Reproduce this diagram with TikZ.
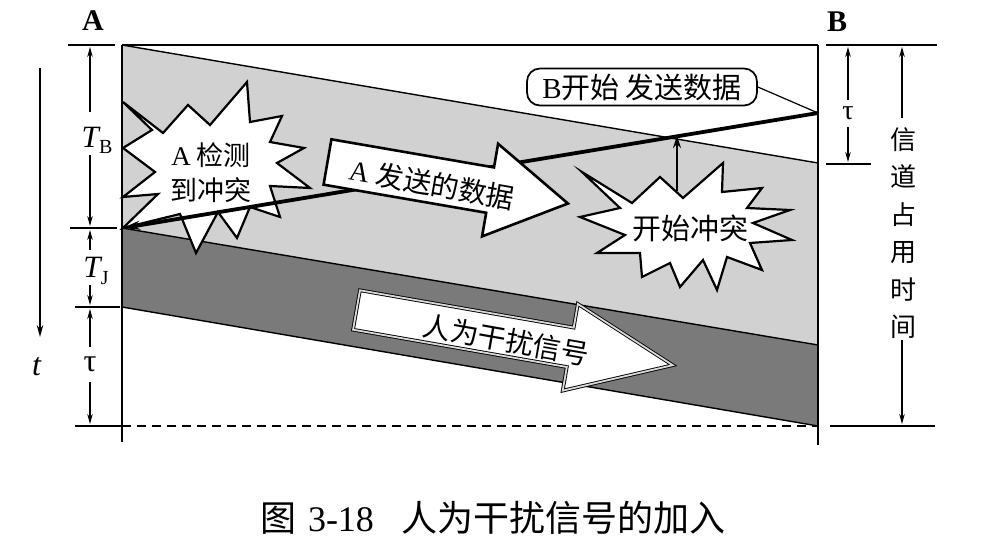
\documentclass[tikz,border=0pt]{standalone}
\usepackage{fontspec}
\setmainfont{Liberation Serif}
\newfontfamily\cjk{Noto Sans CJK SC}
\usetikzlibrary{arrows.meta}
\definecolor{lightfill}{gray}{0.82}
\definecolor{darkfill}{gray}{0.48}
\definecolor{gapgray}{gray}{0.85}
\newcommand{\fs}[1]{\fontsize{#1}{#1}\selectfont}
\begin{document}
\begin{tikzpicture}[x=1pt,y=-1pt,
  boundary/.style={line width=1.4pt},
  framel/.style={line width=1.5pt},
  tickl/.style={line width=1.3pt},
  dimarrow/.style={line width=1.2pt,-{Stealth[length=10pt,width=5.5pt]}},
  burst/.style={draw,fill=white,line width=2.2pt,line join=miter},
  blockarrow/.style={draw,fill=white,line width=2.6pt,line join=miter},
  lbl/.style={inner sep=0pt,outer sep=0pt}
]
\useasboundingbox (0,0) rectangle (986,548);

% key coordinates
\coordinate (TL) at (122,45);
\coordinate (TR) at (818,45);
\coordinate (R1) at (818,163);
\coordinate (L1) at (122,228);
\coordinate (R2) at (818,345);
\coordinate (L2) at (122,307);
\coordinate (BL) at (122,426);
\coordinate (BR) at (818,426);

% shaded regions
\fill[lightfill] (TL) -- (R1) -- (R2) -- (L1) -- cycle;
\fill[darkfill] (L1) -- (R2) -- (BR) -- (L2) -- cycle;
\draw[boundary] (TL) -- (R1);
\draw[boundary] (L1) -- (R2);
\draw[boundary] (L2) -- (BR);

% frame
\draw[framel] (122,442) -- (TL);
\draw[framel] (818,445) -- (TR);
\draw[line width=2.6pt] (TL) -- (TR);
\draw[line width=2.2pt,dash pattern=on 9pt off 6pt] (BL) -- (BR);

% ticks
\draw[tickl] (68,45) -- (115,45);
\draw[tickl] (70,228) -- (117,228);
\draw[tickl] (75,307) -- (120,307);
\draw[tickl] (75,426) -- (122,426);
\draw[tickl] (826,45) -- (937,45);
\draw[tickl] (826,164) -- (871,164);
\draw[tickl] (830,426) -- (935,426);

% star: A detects collision
\draw[burst] (123,102) -- (163,133) -- (188,105) -- (210,125) -- (247,82) -- (250,122)
  -- (282,116) -- (270,142) -- (304,148) -- (277,163) -- (310,188) -- (270,186)
  -- (280,217) -- (250,207) -- (237,238) -- (218,212) -- (196,253) -- (180,214)
  -- (123,228) -- (158,194) -- (123,197) -- (155,172) -- (123,148) -- (152,130) -- cycle;
\node[lbl] (adet1) at (211,155) {\fs{27}A\hspace{6pt}{\cjk 检测}};
\node[lbl] (adet2) at (211,190) {\fs{27}\cjk 到冲突};

% B's data (thick line)
\coordinate (Bstart) at (818,113);
\coordinate (Ahit) at (123,228);
\draw[line width=3.8pt,-{Stealth[length=17pt,width=9pt]}] (Bstart) -- (Ahit);

% A's data block arrow
\begin{scope}[shift={(327.5,162)},rotate=-9.8]
\draw[blockarrow] (0,-23) -- (165,-23) -- (165,-47) -- (244,0) -- (165,47) -- (165,23) -- (0,23) -- cycle;
\end{scope}
\node[lbl,rotate=-10] (adata) at (432,184) {\fs{28}A\hspace{7pt}{\cjk 发送的数据}};

% star: collision begins
\draw[burst] (582,172) -- (632,203) -- (660,177) -- (683,198) -- (723,163) -- (722,192)
  -- (762,188) -- (747,208) -- (790,210) -- (753,223) -- (792,240) -- (750,243)
  -- (762,270) -- (727,257) -- (717,290) -- (703,260) -- (680,287) -- (670,263)
  -- (642,277) -- (640,253) -- (597,253) -- (625,235) -- (580,217) -- (620,208) -- cycle;
\node[lbl] (coll) at (690,228) {\fs{29}\cjk 开始冲突};
\coordinate (cstart) at (677,191);
\coordinate (chit) at (677,136);
\draw[line width=2.6pt,-{Stealth[length=12pt,width=8pt]}] (cstart) -- (chit);

% jamming signal block arrow
\begin{scope}[shift={(356.5,310)},rotate=-9.9]
\draw[line width=0.9pt,double=gapgray,double distance=1.8pt,fill=white,line join=miter]
  (0,-20) -- (217,-20) -- (217,-44) -- (321,0) -- (217,44) -- (217,20) -- (0,20) -- cycle;
\end{scope}
\node[lbl,rotate=-10] (jam) at (506,340) {\fs{28}\cjk 人为干扰信号};

% B starts sending box
\node[draw,line width=1.7pt,rounded corners=13pt,minimum width=230pt,minimum height=37pt,inner sep=0pt]
  (bbox) at (642,87) {\fs{29}B{\cjk 开始\hspace{6pt}发送数据}};
\draw[line width=1.2pt] (bbox.east) -- (Bstart);

% station labels
\node[lbl] (labA) at (93,21) {\fs{30}\bfseries A};
\node[lbl] (labB) at (837,22) {\fs{30}\bfseries B};

% left dimensions
\draw[dimarrow] (90,112) -- (90,47);
\draw[dimarrow] (90,155) -- (90,226);
\node[lbl] (TB) at (97,140) {\fs{31}\textit{T}\kern-1.5pt\raisebox{-6pt}{\fs{20}B}};
\draw[dimarrow] (90,250) -- (90,230);
\draw[dimarrow] (90,285) -- (90,305);
\node[lbl] (TJ) at (96,271) {\fs{31}\textit{T}\kern-1.5pt\raisebox{-7pt}{\fs{20}J}};
\draw[dimarrow] (90,347) -- (90,309);
\draw[dimarrow] (90,382) -- (90,424);
\node[lbl] (tauL) at (90,364) {\fs{32}τ};

% time axis
\draw[line width=1.3pt,-{Stealth[length=12pt,width=6.5pt]}] (40,68) -- (40,337);
\node[lbl] (tlab) at (37,367) {\fs{32}\textit{t}};

% right dimensions
\draw[dimarrow] (848,100) -- (848,47);
\draw[dimarrow] (848,127) -- (848,162);
\node[lbl] (tauR) at (848,113) {\fs{28}τ};
\draw[dimarrow] (902,118) -- (902,47);
\draw[dimarrow] (902,340) -- (902,424);
\node[lbl,align=center,font=\fontsize{26}{37.5}\selectfont\cjk] (chan) at (903,233) {信\\道\\占\\用\\时\\间};

% caption
\node[lbl] (cap) at (493,518) {\fs{36}{\cjk 图}\hspace{12pt}3-18\hspace{28pt}{\cjk 人为干扰信号的加入}};
\end{tikzpicture}
\end{document}
